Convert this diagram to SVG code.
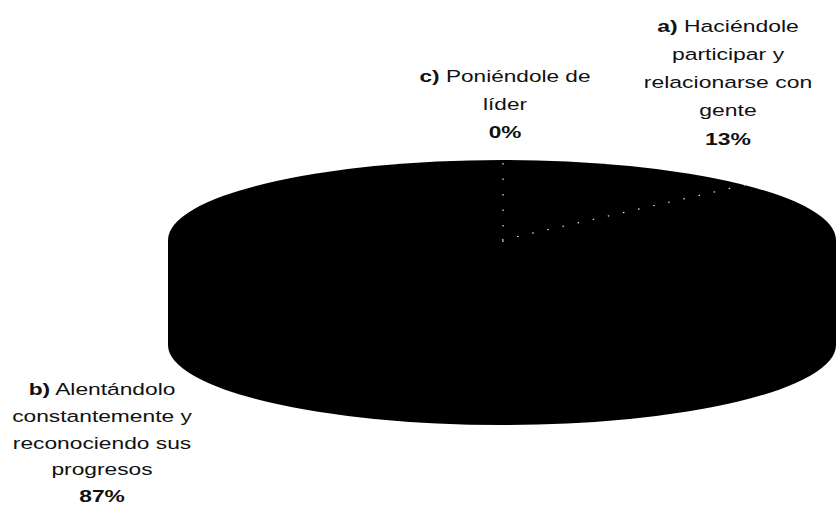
<svg xmlns="http://www.w3.org/2000/svg" width="837" height="505" viewBox="0 0 837 505">
<style>
.lbl{font-family:"Liberation Sans",Arial,sans-serif;font-size:17px;fill:#111;text-anchor:middle}
.b{font-weight:bold}
.edge{stroke:#fff;stroke-width:1.2;stroke-dasharray:1.5 14;fill:none;opacity:0.9}
</style>
<rect width="837" height="505" fill="#fff"/>
<g id="pie">
<path d="M168,240 A334,80 0 0 1 836,240 L836,345 A334,80 0 0 1 168,345 Z" fill="#000"/>
</g>
<g id="slice-edges">
<line class="edge" x1="503" y1="163" x2="503" y2="246"/>
<line class="edge" x1="502" y1="240" x2="745" y2="185"/>
</g>
<g id="label-a" transform="translate(728,0) scale(1.35,1)">
<text class="lbl" x="0" y="32"><tspan class="b">a)</tspan>  Haciéndole</text>
<text class="lbl" x="0" y="60">participar y</text>
<text class="lbl" x="0" y="88">relacionarse con</text>
<text class="lbl" x="0" y="116">gente</text>
<text class="lbl b" x="0" y="145">13%</text>
</g>
<g id="label-c" transform="translate(505,0) scale(1.33,1)">
<text class="lbl" x="0" y="82"><tspan class="b">c)</tspan>  Poniéndole de</text>
<text class="lbl" x="0" y="110">líder</text>
<text class="lbl b" x="0" y="138">0%</text>
</g>
<g id="label-b" transform="translate(102,0) scale(1.34,1)">
<text class="lbl" x="0" y="395"><tspan class="b">b)</tspan>  Alentándolo</text>
<text class="lbl" x="0" y="422">constantemente y</text>
<text class="lbl" x="0" y="449">reconociendo sus</text>
<text class="lbl" x="0" y="475">progresos</text>
<text class="lbl b" x="0" y="502">87%</text>
</g>
</svg>
